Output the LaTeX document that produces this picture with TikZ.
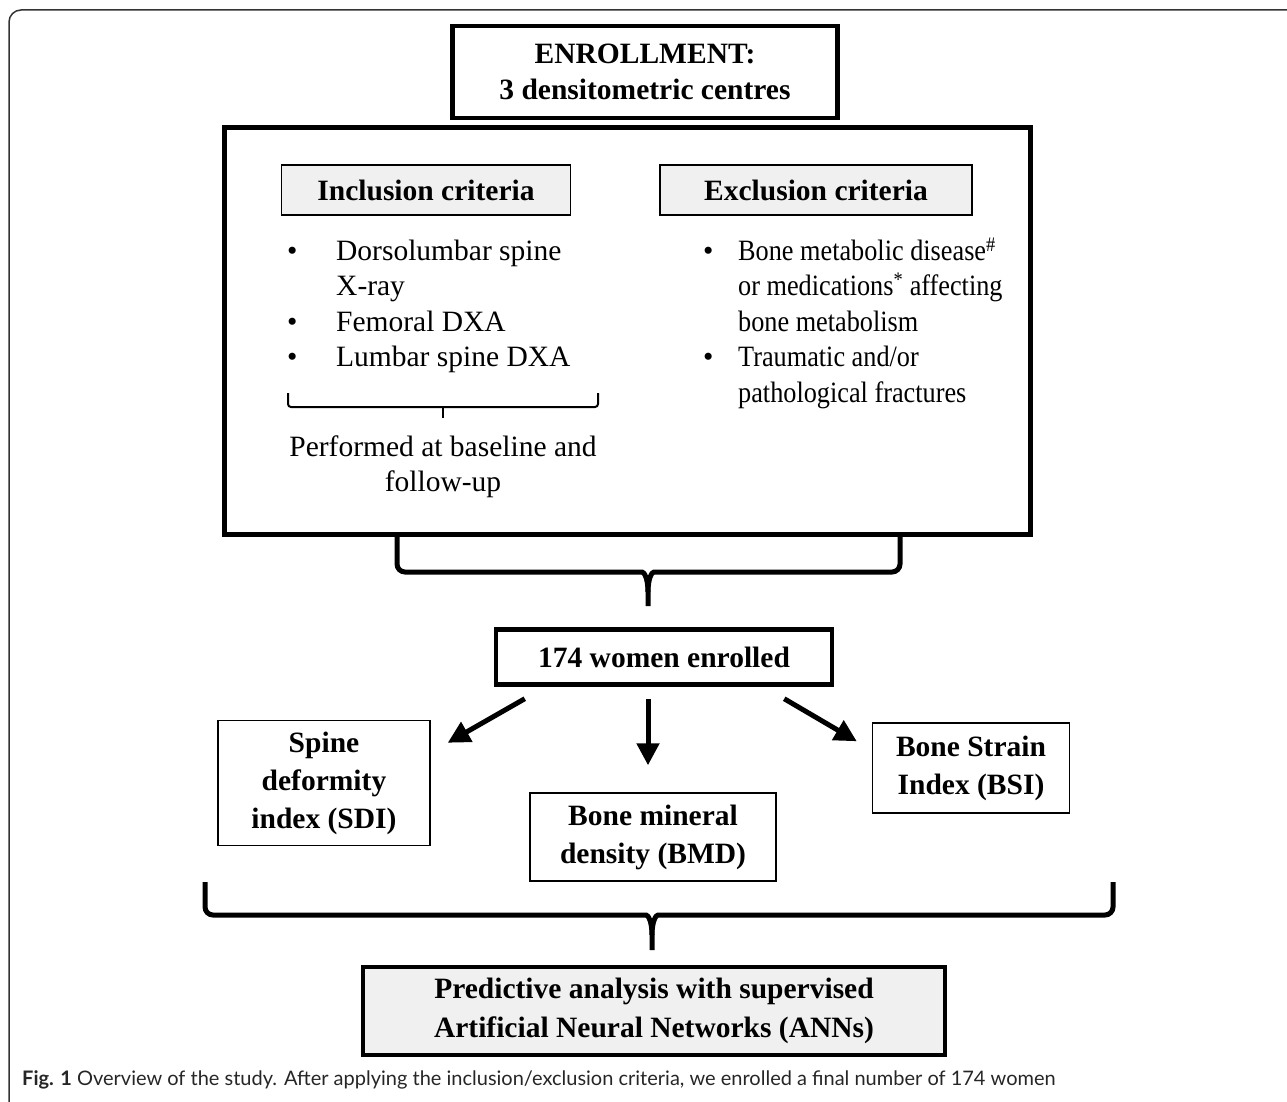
\documentclass[tikz,border=0pt]{standalone}
\usepackage{fontspec}
\setmainfont{Liberation Serif}
\newfontfamily\narrowserif[FakeStretch=0.89]{Liberation Serif}
\newfontfamily\capfont{Lato}
\usetikzlibrary{arrows.meta,calc,positioning}
\tikzset{
  >={Triangle[length=22pt,width=22pt]}
}

\begin{document}
\begin{tikzpicture}[x=1pt,y=-1pt,
        thickbox/.style={rectangle,draw,line width=4.5pt,align=center,font=\fontsize{29.5}{36}\selectfont\bfseries},
        thinbox/.style={rectangle,draw,line width=1.5pt,align=center,font=\fontsize{29.5}{38}\selectfont\bfseries},
        head/.style={thinbox,fill=black!6},
        items/.style={inner sep=0pt,anchor=north west,font=\fontsize{29.5}{35.5}\selectfont},
        brace/.style={line width=5pt},
        arr/.style={->,line width=5pt}
      ]
      \useasboundingbox (0,0) rectangle (1287,1102);
      \draw[line width=1.5pt,black!80,rounded corners=12pt] (1295,10) -| (9,1110);
      \node (enroll) at (645,72) [thickbox,minimum width=385pt,minimum height=92pt] {ENROLLMENT:\\3 densitometric centres};
      \node (crit) at (627,331) [rectangle,draw,line width=5pt,minimum width=806pt,minimum height=406pt] {};
      \node (incl) at (426,190) [head,minimum width=289pt,minimum height=50pt] {Inclusion criteria};
      \node (excl) at (816,190) [head,minimum width=312pt,minimum height=50pt] {Exclusion criteria};
      \node (incllist) at (287,235) [items] {\begin{tabular}{@{}p{49pt}@{}l@{}}
          \textbullet & Dorsolumbar spine\\
                      & X-ray\\
          \textbullet & Femoral DXA\\
          \textbullet & Lumbar spine DXA
        \end{tabular}};
      \node (excllist) at (703,235) [items] {\begin{tabular}{@{}p{35pt}@{}l@{}}
          \textbullet & \narrowserif Bone metabolic disease\textsuperscript{\#}\\
                      & \narrowserif or medications\textsuperscript{*} affecting\\
                      & \narrowserif bone metabolism\\
          \textbullet & \narrowserif Traumatic and/or\\
                      & \narrowserif pathological fractures
        \end{tabular}};
      \node (perf) at (443,467) [align=center,font=\fontsize{29.5}{35.5}\selectfont] {Performed at baseline and\\follow-up};
      % brace under the inclusion items
      \draw[line width=2pt] (288,393) [rounded corners=3pt] |- (598,407) -- (598,393);
      \draw[line width=2pt] (443,407) -- (443,418);
      \node (enrolled) at (664,657) [thickbox,minimum width=336pt,minimum height=55pt] {174 women enrolled};
      \node (sdi) at (324,783) [thinbox,minimum width=212pt,minimum height=125pt] {Spine\\deformity\\index (SDI)};
      \node (bmd) at (653,837) [thinbox,minimum width=246pt,minimum height=88pt] {Bone mineral\\density (BMD)};
      \node (bsi) at (971,768) [thinbox,minimum width=197pt,minimum height=90pt] {Bone Strain\\Index (BSI)};
      \node (pred) at (654,1011) [thickbox,fill=black!6,minimum width=582pt,minimum height=88pt,font=\fontsize{29.5}{39}\selectfont\bfseries] {Predictive analysis with supervised\\Artificial Neural Networks (ANNs)};
      % braces
      \draw[brace] (397,532) [rounded corners=8pt] |- (634,572) [sharp corners] .. controls (644,572) and (648,578) .. (648,592) -- (648,606);
      \draw[brace] (900,532) [rounded corners=8pt] |- (662,572) [sharp corners] .. controls (652,572) and (648,578) .. (648,592);
      \draw[brace] (205,882) [rounded corners=8pt] |- (638,915) [sharp corners] .. controls (648,915) and (652,921) .. (652,935) -- (652,950);
      \draw[brace] (1113,882) [rounded corners=8pt] |- (666,915) [sharp corners] .. controls (656,915) and (652,921) .. (652,935);
      % arrows
      \draw[arr] ($(enrolled.south west)+(31,12)$) -- ($(sdi.north east)+(17,23)$);
      \draw[arr] ($(enrolled.south)+(-16,12)$) -- ($(bmd.north)+(-5,-27)$);
      \draw[arr] ($(enrolled.south east)+(-50,12)$) -- ($(bsi.north west)+(-15,19)$);
      \node (cap) at (22,1085) [anchor=base west,inner sep=0pt,font=\capfont\fontsize{20}{24}\selectfont,text=black!85] {\textbf{Fig. 1} Overview of the study. After applying the inclusion/exclusion criteria, we enrolled a final number of 174 women};
    \end{tikzpicture}
\end{document}
